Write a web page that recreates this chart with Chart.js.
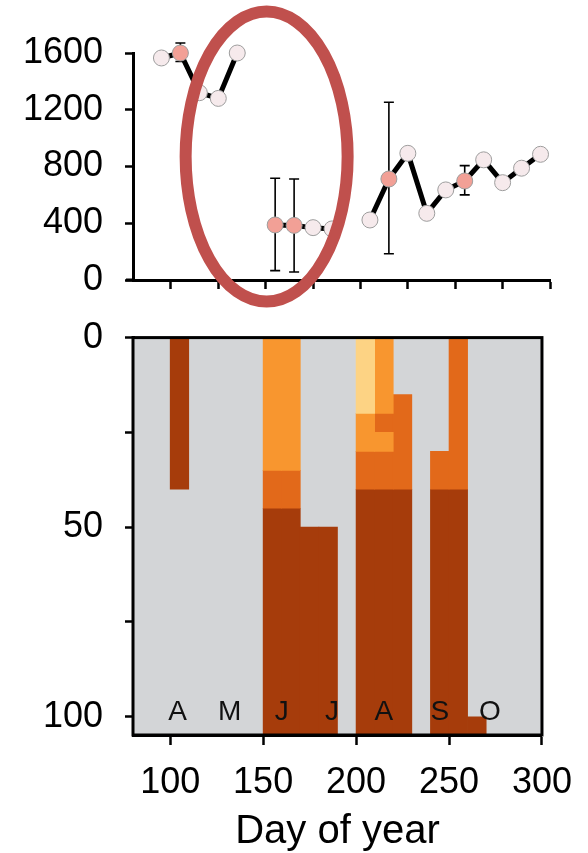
<!DOCTYPE html>
<html>
<head>
<meta charset="utf-8">
<script src="https://cdn.jsdelivr.net/npm/chart.js@4.4.1/dist/chart.umd.min.js"></script>
<style>
  html, body { margin: 0; padding: 0; background: #fff; }
  #wrap { position: relative; width: 588px; height: 853px; overflow: hidden; }
  #top-canvas { position: absolute; left: 0; top: 0; }
  #depth-canvas { position: absolute; left: 0; top: 294px; }
</style>
</head>
<body>
<div id="wrap">
  <canvas id="depth-canvas" width="588" height="562"></canvas>
  <canvas id="top-canvas" width="588" height="324"></canvas>
</div>
<script>
const FONT = '"Liberation Sans", Arial, sans-serif';

// --- top panel: sampled values (null = no sample, breaks the line)
const SAMPLE_DAYS = [95, 105, 115, 125, 135, 145, 155, 165, 175, 185, 195, 205, 215, 225, 235, 245, 255, 265, 275, 285, 295];
const SAMPLE_VALUES = [1565, 1600, 1320, 1280, 1600, null, 388, 385, 369, 360, null, 423, 712, 893, 470, 635, 698, 847, 686, 788, 886];
const ERR_DAYS = [105, 155, 165, 215, 255];
const ERR_LOW = [1540, 66, 56, 185, 600];
const ERR_HIGH = [1670, 717, 712, 1253, 806];
const TOP_Y_TICKS = [0, 400, 800, 1200, 1600];
const TOP_X_TICKS = [100, 125, 150, 175, 200, 225, 250, 275, 300];

// --- bottom panel: 10-day columns, depth ranges [top, bottom] per class
const PALE_DAYS = [205];
const PALE_RANGES = [[0, 20]];
const LIGHT_DAYS = [155, 165, 205, 215, 215];
const LIGHT_RANGES = [[0, 35], [0, 35], [20, 30], [0, 20], [25, 30]];
const MID_DAYS = [155, 165, 205, 215, 215, 225, 245, 255];
const MID_RANGES = [[35, 45], [35, 45], [30, 40], [20, 25], [30, 40], [15, 40], [30, 40], [0, 40]];
const DARK_DAYS = [105, 155, 165, 175, 185, 205, 215, 225, 245, 255, 265];
const DARK_RANGES = [[0, 40], [45, 105], [45, 105], [50, 105], [50, 105], [40, 105], [40, 105], [40, 105], [40, 105], [40, 105], [100, 105]];
const DEPTH_TICKS = [0, 25, 50, 75, 100];
const DEPTH_LABELS = [0, 50, 100];
const DAY_TICKS = [100, 150, 200, 250, 300];
const MONTH_LABELS = ['A', 'M', 'J', 'J', 'A', 'S', 'O'];
const MONTH_DAYS = [104, 132, 160, 187, 215, 245, 272];

const COLORS = {
  pale: '#fdd384',
  light: '#f8962f',
  mid: '#e2691a',
  dark: '#a63c0b',
  empty: '#d3d5d7',
  highlight: '#f2a096',
  plain: '#f6eaec',
  ring: '#c0504d',
};

// annotation ring drawn over the top panel (centre in data units, radii in px)
const RING = { day: 150.5, value: 870, rx: 81, ry: 145, width: 12 };

function fixedTicks(values) {
  return (scale) => { scale.ticks = values.map((v) => ({ value: v })); };
}

const axisLine = { display: true, color: '#000', width: 3 };
const tickFont = { family: FONT, size: 36 };

// ---------- top chart ----------
const errorBars = {
  id: 'errorBars',
  beforeDatasetsDraw(chart) {
    const { ctx, chartArea: a, scales: { x, y } } = chart;
    ctx.save();
    // x axis line runs a little past the y axis on the left
    ctx.strokeStyle = '#000';
    ctx.lineWidth = 3;
    ctx.beginPath();
    ctx.moveTo(a.left - 7, a.bottom);
    ctx.lineTo(a.left, a.bottom);
    ctx.stroke();

    ctx.lineWidth = 1.6;
    ERR_DAYS.forEach((d, i) => {
      const px = x.getPixelForValue(d);
      const lo = y.getPixelForValue(ERR_LOW[i]);
      const hi = y.getPixelForValue(ERR_HIGH[i]);
      ctx.beginPath();
      ctx.moveTo(px, lo); ctx.lineTo(px, hi);
      ctx.moveTo(px - 5, lo); ctx.lineTo(px + 5, lo);
      ctx.moveTo(px - 5, hi); ctx.lineTo(px + 5, hi);
      ctx.stroke();
    });
    ctx.restore();
  },
};

const ring = {
  id: 'ring',
  afterDraw(chart) {
    const { ctx, scales: { x, y } } = chart;
    ctx.save();
    ctx.strokeStyle = COLORS.ring;
    ctx.lineWidth = RING.width;
    ctx.beginPath();
    ctx.ellipse(x.getPixelForValue(RING.day), y.getPixelForValue(RING.value), RING.rx, RING.ry, 0, 0, Math.PI * 2);
    ctx.stroke();
    ctx.restore();
  },
};

new Chart(document.getElementById('top-canvas'), {
  type: 'line',
  data: {
    datasets: [{
      data: SAMPLE_DAYS.map((d, i) => ({ x: d, y: SAMPLE_VALUES[i] })),
      borderColor: '#000',
      borderWidth: 5,
      tension: 0,
      spanGaps: false,
      clip: false,
      pointRadius: 8,
      pointBorderWidth: 1,
      pointBorderColor: '#9d9d9d',
      pointBackgroundColor: SAMPLE_DAYS.map((d) => (ERR_DAYS.includes(d) ? COLORS.highlight : COLORS.plain)),
    }],
  },
  options: {
    responsive: false,
    animation: false,
    devicePixelRatio: 1,
    layout: { padding: { left: 0, right: 38, top: 53, bottom: 0 } },
    plugins: { legend: { display: false }, tooltip: { enabled: false } },
    scales: {
      x: {
        type: 'linear',
        min: 80,
        max: 300,
        afterBuildTicks: fixedTicks(TOP_X_TICKS),
        afterFit: (s) => { s.height = 44; },
        border: axisLine,
        grid: { display: true, drawOnChartArea: false, tickLength: 9, tickWidth: 2.5, tickColor: '#000' },
        ticks: { callback: () => '' },
      },
      y: {
        min: 0,
        max: 1600,
        afterBuildTicks: fixedTicks(TOP_Y_TICKS),
        afterFit: (s) => { s.width = 133; },
        border: axisLine,
        grid: { display: true, drawOnChartArea: false, tickLength: 8, tickWidth: 2.5, tickColor: '#000' },
        ticks: { font: tickFont, color: '#000', padding: 22, callback: (v) => String(v) },
      },
    },
  },
  plugins: [errorBars, ring],
});

// ---------- bottom chart ----------
const panelDecor = {
  id: 'panelDecor',
  beforeDatasetsDraw(chart) {
    const { ctx, chartArea: a } = chart;
    ctx.save();
    ctx.fillStyle = COLORS.empty;
    ctx.fillRect(a.left, a.top, a.right - a.left, a.bottom - a.top);
    ctx.restore();
  },
  afterDatasetsDraw(chart) {
    const { ctx, chartArea: a, scales: { x, y } } = chart;
    ctx.save();
    ctx.fillStyle = '#111';
    ctx.font = `28px ${FONT}`;
    ctx.textAlign = 'center';
    ctx.textBaseline = 'middle';
    MONTH_LABELS.forEach((m, i) => {
      ctx.fillText(m, x.getPixelForValue(MONTH_DAYS[i]), y.getPixelForValue(100) - 5);
    });
    ctx.strokeStyle = '#000';
    ctx.lineWidth = 3;
    ctx.strokeRect(a.left, a.top, a.right - a.left, a.bottom - a.top);
    ctx.restore();
  },
};

function layer(days, ranges, color) {
  return {
    data: days.map((d, i) => ({ x: d, y: ranges[i] })),
    backgroundColor: color,
    borderWidth: 0,
    borderSkipped: false,
    grouped: false,
    barPercentage: 1,
    categoryPercentage: 1,
  };
}

new Chart(document.getElementById('depth-canvas'), {
  type: 'bar',
  data: {
    datasets: [
      layer(PALE_DAYS, PALE_RANGES, COLORS.pale),
      layer(LIGHT_DAYS, LIGHT_RANGES, COLORS.light),
      layer(MID_DAYS, MID_RANGES, COLORS.mid),
      layer(DARK_DAYS, DARK_RANGES, COLORS.dark),
    ],
  },
  options: {
    responsive: false,
    animation: false,
    devicePixelRatio: 1,
    layout: { padding: { left: 0, right: 38, top: 28, bottom: 0 } },
    plugins: { legend: { display: false }, tooltip: { enabled: false } },
    scales: {
      x: {
        type: 'linear',
        min: 80,
        max: 300,
        offset: false,
        afterBuildTicks: fixedTicks(DAY_TICKS),
        afterFit: (s) => { s.height = 121; },
        border: axisLine,
        grid: { display: true, offset: false, drawOnChartArea: false, tickLength: 10, tickWidth: 2.5, tickColor: '#000' },
        ticks: { font: tickFont, color: '#000', padding: 16, maxRotation: 0, callback: (v) => String(v) },
        title: { display: true, text: 'Day of year', font: { family: FONT, size: 40 }, color: '#000', padding: { top: 0, bottom: 0 } },
      },
      y: {
        reverse: true,
        min: 0,
        max: 104.8,
        afterBuildTicks: fixedTicks(DEPTH_TICKS),
        afterFit: (s) => { s.width = 133; },
        border: axisLine,
        grid: { display: true, drawOnChartArea: false, tickLength: 8, tickWidth: 2.5, tickColor: '#000' },
        ticks: {
          font: tickFont,
          color: '#000',
          padding: 22,
          callback: (v) => (DEPTH_LABELS.includes(v) ? String(v) : ''),
        },
      },
    },
  },
  plugins: [panelDecor],
});
</script>
</body>
</html>
